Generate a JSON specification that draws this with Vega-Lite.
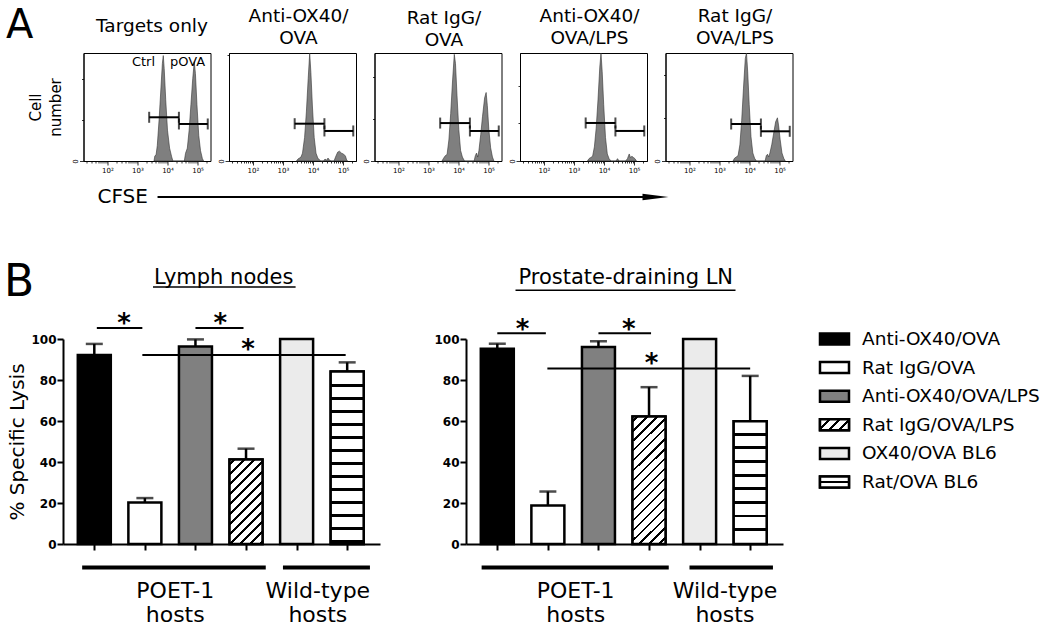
{
"$schema": "https://vega.github.io/schema/vega-lite/v6.json",
"padding": {"left": 3, "top": 5, "right": 3, "bottom": 3},
"config": {"font": "DejaVu Sans", "view": {"stroke": null}, "title": {"fontWeight": "normal", "color": "black", "fontSize": 18.5, "lineHeight": 22}, "axis": {"domainColor": "black", "tickColor": "black", "labelColor": "black", "titleColor": "black", "grid": false}, "text": {"color": "black"}},
"datasets": {
"hist": [
{"panel":"p1","cfse":3548,"count":0},{"panel":"p1","cfse":3802,"count":1.0},{"panel":"p1","cfse":4169,"count":1.2},{"panel":"p1","cfse":4571,"count":3},{"panel":"p1","cfse":5248,"count":8},{"panel":"p1","cfse":6026,"count":14},{"panel":"p1","cfse":6761,"count":19},{"panel":"p1","cfse":7244,"count":20.5},{"panel":"p1","cfse":7762,"count":18},{"panel":"p1","cfse":8710,"count":12},{"panel":"p1","cfse":10000,"count":6},{"panel":"p1","cfse":11749,"count":2.5},{"panel":"p1","cfse":13804,"count":0.8},{"panel":"p1","cfse":15136,"count":0},
{"panel":"p1","cfse":36308,"count":0},{"panel":"p1","cfse":39811,"count":1.5},{"panel":"p1","cfse":45709,"count":2.5},{"panel":"p1","cfse":52481,"count":6},{"panel":"p1","cfse":60256,"count":11},{"panel":"p1","cfse":69183,"count":16},{"panel":"p1","cfse":77625,"count":19.3},{"panel":"p1","cfse":85114,"count":17},{"panel":"p1","cfse":95499,"count":11},{"panel":"p1","cfse":109648,"count":5},{"panel":"p1","cfse":125893,"count":2},{"panel":"p1","cfse":144544,"count":0.5},{"panel":"p1","cfse":158489,"count":0},
{"panel":"p2","cfse":2818,"count":0},{"panel":"p2","cfse":3162,"count":1},{"panel":"p2","cfse":3548,"count":1.5},{"panel":"p2","cfse":3981,"count":2},{"panel":"p2","cfse":4467,"count":4},{"panel":"p2","cfse":5248,"count":12},{"panel":"p2","cfse":6026,"count":25},{"panel":"p2","cfse":6918,"count":42},{"panel":"p2","cfse":7762,"count":55},{"panel":"p2","cfse":8511,"count":45},{"panel":"p2","cfse":9550,"count":28},{"panel":"p2","cfse":10965,"count":12},{"panel":"p2","cfse":12589,"count":4},{"panel":"p2","cfse":14454,"count":1.5},{"panel":"p2","cfse":16596,"count":0.5},{"panel":"p2","cfse":18197,"count":0},
{"panel":"p2","cfse":22387,"count":0},{"panel":"p2","cfse":25119,"count":1},{"panel":"p2","cfse":28184,"count":0.4},{"panel":"p2","cfse":31623,"count":1.5},{"panel":"p2","cfse":35481,"count":0.4},{"panel":"p2","cfse":39811,"count":0},
{"panel":"p2","cfse":50119,"count":0},{"panel":"p2","cfse":56234,"count":2},{"panel":"p2","cfse":66069,"count":4.5},{"panel":"p2","cfse":75858,"count":5},{"panel":"p2","cfse":89125,"count":4},{"panel":"p2","cfse":104713,"count":3.5},{"panel":"p2","cfse":120226,"count":2.5},{"panel":"p2","cfse":131826,"count":0.5},{"panel":"p2","cfse":141254,"count":0},
{"panel":"p3","cfse":2818,"count":0},{"panel":"p3","cfse":3162,"count":1},{"panel":"p3","cfse":3631,"count":2},{"panel":"p3","cfse":4169,"count":2.5},{"panel":"p3","cfse":4786,"count":8},{"panel":"p3","cfse":5495,"count":18},{"panel":"p3","cfse":6310,"count":30},{"panel":"p3","cfse":7244,"count":40.5},{"panel":"p3","cfse":7943,"count":37},{"panel":"p3","cfse":8913,"count":25},{"panel":"p3","cfse":10233,"count":12},{"panel":"p3","cfse":11749,"count":4},{"panel":"p3","cfse":13490,"count":1.5},{"panel":"p3","cfse":15849,"count":0},
{"panel":"p3","cfse":33113,"count":0},{"panel":"p3","cfse":36308,"count":2},{"panel":"p3","cfse":39811,"count":3},{"panel":"p3","cfse":43652,"count":1.5},{"panel":"p3","cfse":47863,"count":4},{"panel":"p3","cfse":54954,"count":10},{"panel":"p3","cfse":63096,"count":17},{"panel":"p3","cfse":74131,"count":24},{"panel":"p3","cfse":83176,"count":26},{"panel":"p3","cfse":91201,"count":21},{"panel":"p3","cfse":102329,"count":12},{"panel":"p3","cfse":117490,"count":5},{"panel":"p3","cfse":134896,"count":1.5},{"panel":"p3","cfse":151356,"count":0},
{"panel":"p4","cfse":2818,"count":0},{"panel":"p4","cfse":3162,"count":1},{"panel":"p4","cfse":3631,"count":1.5},{"panel":"p4","cfse":4169,"count":2},{"panel":"p4","cfse":4786,"count":6},{"panel":"p4","cfse":5495,"count":14},{"panel":"p4","cfse":6310,"count":26},{"panel":"p4","cfse":7244,"count":40},{"panel":"p4","cfse":7943,"count":46},{"panel":"p4","cfse":8710,"count":38},{"panel":"p4","cfse":9772,"count":24},{"panel":"p4","cfse":11220,"count":10},{"panel":"p4","cfse":12882,"count":3},{"panel":"p4","cfse":14791,"count":1},{"panel":"p4","cfse":16982,"count":0},
{"panel":"p4","cfse":25119,"count":0},{"panel":"p4","cfse":28184,"count":1},{"panel":"p4","cfse":31623,"count":0},{"panel":"p4","cfse":52481,"count":0},{"panel":"p4","cfse":60256,"count":1},{"panel":"p4","cfse":69183,"count":3},{"panel":"p4","cfse":75858,"count":1.5},{"panel":"p4","cfse":85114,"count":2},{"panel":"p4","cfse":95499,"count":1.5},{"panel":"p4","cfse":107152,"count":1},{"panel":"p4","cfse":120226,"count":0},
{"panel":"p5","cfse":2818,"count":0},{"panel":"p5","cfse":3162,"count":1},{"panel":"p5","cfse":3631,"count":1.5},{"panel":"p5","cfse":4169,"count":2},{"panel":"p5","cfse":4786,"count":6},{"panel":"p5","cfse":5495,"count":15},{"panel":"p5","cfse":6310,"count":27},{"panel":"p5","cfse":7244,"count":38},{"panel":"p5","cfse":7943,"count":40},{"panel":"p5","cfse":8710,"count":33},{"panel":"p5","cfse":9772,"count":21},{"panel":"p5","cfse":11220,"count":9},{"panel":"p5","cfse":12882,"count":3},{"panel":"p5","cfse":14791,"count":1},{"panel":"p5","cfse":16982,"count":0},
{"panel":"p5","cfse":33113,"count":0},{"panel":"p5","cfse":36308,"count":2},{"panel":"p5","cfse":39811,"count":2.5},{"panel":"p5","cfse":43652,"count":1.5},{"panel":"p5","cfse":47863,"count":3},{"panel":"p5","cfse":54954,"count":6},{"panel":"p5","cfse":63096,"count":10},{"panel":"p5","cfse":74131,"count":14.5},{"panel":"p5","cfse":85114,"count":16},{"panel":"p5","cfse":93325,"count":13},{"panel":"p5","cfse":104713,"count":8},{"panel":"p5","cfse":120226,"count":3},{"panel":"p5","cfse":138038,"count":1},{"panel":"p5","cfse":154882,"count":0}
],
"gates": [
{"panel":"p1","lo":2455,"hi":23988,"count":8.5},{"panel":"p1","lo":23988,"hi":218776,"count":7.2},
{"panel":"p2","lo":2455,"hi":23988,"count":19},{"panel":"p2","lo":23988,"hi":218776,"count":15.3},
{"panel":"p3","lo":2455,"hi":23988,"count":14.4},{"panel":"p3","lo":23988,"hi":218776,"count":11.4},
{"panel":"p4","lo":2455,"hi":23988,"count":16.2},{"panel":"p4","lo":23988,"hi":218776,"count":12.8},
{"panel":"p5","lo":2455,"hi":23988,"count":13.7},{"panel":"p5","lo":23988,"hi":218776,"count":11}
],
"lysis": [
{"site":"Lymph nodes","group":"Anti-OX40/OVA","idx":1,"mean":92.2,"upper":97.6},
{"site":"Lymph nodes","group":"Rat IgG/OVA","idx":2,"mean":20.3,"upper":22.4},
{"site":"Lymph nodes","group":"Anti-OX40/OVA/LPS","idx":3,"mean":96.4,"upper":99.8},
{"site":"Lymph nodes","group":"Rat IgG/OVA/LPS","idx":4,"mean":41.2,"upper":46.5},
{"site":"Lymph nodes","group":"OX40/OVA BL6","idx":5,"mean":100,"upper":100},
{"site":"Lymph nodes","group":"Rat/OVA BL6","idx":6,"mean":84.2,"upper":88.6},
{"site":"Prostate-draining LN","group":"Anti-OX40/OVA","idx":1,"mean":95.3,"upper":97.7},
{"site":"Prostate-draining LN","group":"Rat IgG/OVA","idx":2,"mean":18.8,"upper":25.6},
{"site":"Prostate-draining LN","group":"Anti-OX40/OVA/LPS","idx":3,"mean":96.1,"upper":98.9},
{"site":"Prostate-draining LN","group":"Rat IgG/OVA/LPS","idx":4,"mean":62.2,"upper":76.5},
{"site":"Prostate-draining LN","group":"OX40/OVA BL6","idx":5,"mean":100,"upper":100},
{"site":"Prostate-draining LN","group":"Rat/OVA BL6","idx":6,"mean":59.9,"upper":82.0}
],
"sig": [
{"site":"Lymph nodes","from":1.05,"to":1.95,"level":105.4,"starAt":1.59,"starLevel":107.2},
{"site":"Lymph nodes","from":3.0,"to":3.95,"level":105.4,"starAt":3.49,"starLevel":107.2},
{"site":"Lymph nodes","from":1.95,"to":5.97,"level":92.2,"starAt":4.04,"starLevel":94.7},
{"site":"Prostate-draining LN","from":1.0,"to":1.96,"level":102.8,"starAt":1.5,"starLevel":104.5},
{"site":"Prostate-draining LN","from":3.0,"to":4.04,"level":102.8,"starAt":3.6,"starLevel":104.5},
{"site":"Prostate-draining LN","from":1.99,"to":6.0,"level":85.6,"starAt":4.05,"starLevel":87.9}
],
"hosts": [
{"site":"Lymph nodes","label":"POET-1\nhosts","from":0.76,"to":4.39,"at":2.6},
{"site":"Lymph nodes","label":"Wild-type\nhosts","from":4.73,"to":6.45,"at":5.42},
{"site":"Prostate-draining LN","label":"POET-1\nhosts","from":0.69,"to":4.39,"at":2.55},
{"site":"Prostate-draining LN","label":"Wild-type\nhosts","from":4.8,"to":6.45,"at":5.5}
]
},
"spacing": 8,
"vconcat": [
{
"title": {"text": "A", "fontSize": 40, "anchor": "start", "frame": "bounds", "dx": -22, "offset": -39},
"bounds": "flush",
"spacing": 19.5,
"hconcat": [
{"width": 1, "height": 1, "data": {"values": [{}]}, "mark": {"type": "point", "opacity": 0}, "encoding": {}},
{
"bounds": "flush",
"spacing": 18.5,
"hconcat": [
{"width": 127, "height": 108, "view": {"stroke": "black", "strokeWidth": 1},
 "title": {"text": "Targets only", "offset": 18, "dx": 5},
 "layer": [
 {"data": {"name": "hist"}, "transform": [{"filter": "datum.panel === 'p1'"}],
  "mark": {"type": "area", "orient": "vertical", "fill": "#7f7f7f", "stroke": "#333333", "strokeWidth": 0.6},
  "encoding": {
   "x": {"field": "cfse", "type": "quantitative", "scale": {"type": "log", "domain": [16, 270000], "nice": false},
    "axis": {"title": null, "values": [20,30,40,50,60,70,80,90,100,200,300,400,500,600,700,800,900,1000,2000,3000,4000,5000,6000,7000,8000,9000,10000,20000,30000,40000,50000,60000,70000,80000,90000,100000,200000], "labelExpr": "datum.value === 100 ? '10²' : datum.value === 1000 ? '10³' : datum.value === 10000 ? '10⁴' : datum.value === 100000 ? '10⁵' : ''", "labelFontSize": 7, "labelPadding": 1, "tickSize": {"condition": {"test": "datum.value === 100 || datum.value === 1000 || datum.value === 10000 || datum.value === 100000", "value": 4}, "value": 2}, "tickWidth": 0.8, "labelOverlap": false, "labelFlush": false}},
   "y": {"field": "count", "type": "quantitative", "scale": {"domain": [0, 21], "nice": false},
    "axis": {"title": ["Cell", "number"], "titleFontSize": 15, "titleFontWeight": "normal", "titleLineHeight": 20, "titlePadding": 8, "values": [0,1,2,3,4,5,6,7,8,9,10,11,12,13,14,15,16,17,18,19,20,21], "labelExpr": "datum.value % 5 === 0 ? datum.label : ''", "labelAngle": -90, "labelAlign": "center", "labelBaseline": "bottom", "labelFontSize": 7, "labelPadding": 1, "tickSize": {"condition": {"test": "datum.value % 5 === 0", "value": 4}, "value": 2}, "tickWidth": 0.8, "labelOverlap": false, "labelFlush": false}}
  }},
 {"data": {"name": "gates"}, "transform": [{"filter": "datum.panel === 'p1'"}], "mark": {"type": "rule", "strokeWidth": 2, "color": "black"}, "encoding": {"x": {"field": "lo", "type": "quantitative"}, "x2": {"field": "hi"}, "y": {"field": "count", "type": "quantitative"}}},
 {"data": {"name": "gates"}, "transform": [{"filter": "datum.panel === 'p1'"}], "mark": {"type": "tick", "orient": "vertical", "size": 11, "thickness": 2, "color": "black"}, "encoding": {"x": {"field": "lo", "type": "quantitative"}, "y": {"field": "count", "type": "quantitative"}}},
 {"data": {"name": "gates"}, "transform": [{"filter": "datum.panel === 'p1'"}], "mark": {"type": "tick", "orient": "vertical", "size": 11, "thickness": 2, "color": "black"}, "encoding": {"x": {"field": "hi", "type": "quantitative"}, "y": {"field": "count", "type": "quantitative"}}},
 {"data": {"values": [{"t": "Ctrl"}]}, "mark": {"type": "text", "fontSize": 13, "baseline": "middle"}, "encoding": {"x": {"datum": 1585, "type": "quantitative"}, "y": {"datum": 19.3, "type": "quantitative"}, "text": {"field": "t"}}},
 {"data": {"values": [{"t": "pOVA"}]}, "mark": {"type": "text", "fontSize": 13, "baseline": "middle"}, "encoding": {"x": {"datum": 46800, "type": "quantitative"}, "y": {"datum": 19.3, "type": "quantitative"}, "text": {"field": "t"}}}
 ]},
{"width": 127, "height": 108, "view": {"stroke": "black", "strokeWidth": 1},
 "title": {"text": ["Anti-OX40/", "OVA"], "offset": 4, "dx": 6},
 "layer": [
 {"data": {"name": "hist"}, "transform": [{"filter": "datum.panel === 'p2'"}],
  "mark": {"type": "area", "orient": "vertical", "fill": "#7f7f7f", "stroke": "#333333", "strokeWidth": 0.6},
  "encoding": {
   "x": {"field": "cfse", "type": "quantitative", "scale": {"type": "log", "domain": [16, 270000], "nice": false},
    "axis": {"title": null, "values": [20,30,40,50,60,70,80,90,100,200,300,400,500,600,700,800,900,1000,2000,3000,4000,5000,6000,7000,8000,9000,10000,20000,30000,40000,50000,60000,70000,80000,90000,100000,200000], "labelExpr": "datum.value === 100 ? '10²' : datum.value === 1000 ? '10³' : datum.value === 10000 ? '10⁴' : datum.value === 100000 ? '10⁵' : ''", "labelFontSize": 7, "labelPadding": 1, "tickSize": {"condition": {"test": "datum.value === 100 || datum.value === 1000 || datum.value === 10000 || datum.value === 100000", "value": 4}, "value": 2}, "tickWidth": 0.8, "labelOverlap": false, "labelFlush": false}},
   "y": {"field": "count", "type": "quantitative", "scale": {"domain": [0, 55], "nice": false},
    "axis": {"title": null, "values": [0,2,4,6,8,10,12,14,16,18,20,22,24,26,28,30,32,34,36,38,40,42,44,46,48,50,52,54], "labelExpr": "datum.value % 10 === 0 ? datum.label : ''", "labelAngle": -90, "labelAlign": "center", "labelBaseline": "bottom", "labelFontSize": 7, "labelPadding": 1, "tickSize": {"condition": {"test": "datum.value % 10 === 0", "value": 4}, "value": 2}, "tickWidth": 0.8, "labelOverlap": false, "labelFlush": false}}
  }},
 {"data": {"name": "gates"}, "transform": [{"filter": "datum.panel === 'p2'"}], "mark": {"type": "rule", "strokeWidth": 2, "color": "black"}, "encoding": {"x": {"field": "lo", "type": "quantitative"}, "x2": {"field": "hi"}, "y": {"field": "count", "type": "quantitative"}}},
 {"data": {"name": "gates"}, "transform": [{"filter": "datum.panel === 'p2'"}], "mark": {"type": "tick", "orient": "vertical", "size": 11, "thickness": 2, "color": "black"}, "encoding": {"x": {"field": "lo", "type": "quantitative"}, "y": {"field": "count", "type": "quantitative"}}},
 {"data": {"name": "gates"}, "transform": [{"filter": "datum.panel === 'p2'"}], "mark": {"type": "tick", "orient": "vertical", "size": 11, "thickness": 2, "color": "black"}, "encoding": {"x": {"field": "hi", "type": "quantitative"}, "y": {"field": "count", "type": "quantitative"}}}
 ]},
{"width": 127, "height": 108, "view": {"stroke": "black", "strokeWidth": 1},
 "title": {"text": ["Rat IgG/", "OVA"], "offset": 4, "dx": 6},
 "layer": [
 {"data": {"name": "hist"}, "transform": [{"filter": "datum.panel === 'p3'"}],
  "mark": {"type": "area", "orient": "vertical", "fill": "#7f7f7f", "stroke": "#333333", "strokeWidth": 0.6},
  "encoding": {
   "x": {"field": "cfse", "type": "quantitative", "scale": {"type": "log", "domain": [16, 270000], "nice": false},
    "axis": {"title": null, "values": [20,30,40,50,60,70,80,90,100,200,300,400,500,600,700,800,900,1000,2000,3000,4000,5000,6000,7000,8000,9000,10000,20000,30000,40000,50000,60000,70000,80000,90000,100000,200000], "labelExpr": "datum.value === 100 ? '10²' : datum.value === 1000 ? '10³' : datum.value === 10000 ? '10⁴' : datum.value === 100000 ? '10⁵' : ''", "labelFontSize": 7, "labelPadding": 1, "tickSize": {"condition": {"test": "datum.value === 100 || datum.value === 1000 || datum.value === 10000 || datum.value === 100000", "value": 4}, "value": 2}, "tickWidth": 0.8, "labelOverlap": false, "labelFlush": false}},
   "y": {"field": "count", "type": "quantitative", "scale": {"domain": [0, 41], "nice": false},
    "axis": {"title": null, "values": [0,1,2,3,4,5,6,7,8,9,10,11,12,13,14,15,16,17,18,19,20,21,22,23,24,25,26,27,28,29,30,31,32,33,34,35,36,37,38,39,40,41], "labelExpr": "datum.value % 5 === 0 ? datum.label : ''", "labelAngle": -90, "labelAlign": "center", "labelBaseline": "bottom", "labelFontSize": 7, "labelPadding": 1, "tickSize": {"condition": {"test": "datum.value % 5 === 0", "value": 4}, "value": 2}, "tickWidth": 0.8, "labelOverlap": false, "labelFlush": false}}
  }},
 {"data": {"name": "gates"}, "transform": [{"filter": "datum.panel === 'p3'"}], "mark": {"type": "rule", "strokeWidth": 2, "color": "black"}, "encoding": {"x": {"field": "lo", "type": "quantitative"}, "x2": {"field": "hi"}, "y": {"field": "count", "type": "quantitative"}}},
 {"data": {"name": "gates"}, "transform": [{"filter": "datum.panel === 'p3'"}], "mark": {"type": "tick", "orient": "vertical", "size": 11, "thickness": 2, "color": "black"}, "encoding": {"x": {"field": "lo", "type": "quantitative"}, "y": {"field": "count", "type": "quantitative"}}},
 {"data": {"name": "gates"}, "transform": [{"filter": "datum.panel === 'p3'"}], "mark": {"type": "tick", "orient": "vertical", "size": 11, "thickness": 2, "color": "black"}, "encoding": {"x": {"field": "hi", "type": "quantitative"}, "y": {"field": "count", "type": "quantitative"}}}
 ]},
{"width": 127, "height": 108, "view": {"stroke": "black", "strokeWidth": 1},
 "title": {"text": ["Anti-OX40/", "OVA/LPS"], "offset": 4, "dx": 6},
 "layer": [
 {"data": {"name": "hist"}, "transform": [{"filter": "datum.panel === 'p4'"}],
  "mark": {"type": "area", "orient": "vertical", "fill": "#7f7f7f", "stroke": "#333333", "strokeWidth": 0.6},
  "encoding": {
   "x": {"field": "cfse", "type": "quantitative", "scale": {"type": "log", "domain": [16, 270000], "nice": false},
    "axis": {"title": null, "values": [20,30,40,50,60,70,80,90,100,200,300,400,500,600,700,800,900,1000,2000,3000,4000,5000,6000,7000,8000,9000,10000,20000,30000,40000,50000,60000,70000,80000,90000,100000,200000], "labelExpr": "datum.value === 100 ? '10²' : datum.value === 1000 ? '10³' : datum.value === 10000 ? '10⁴' : datum.value === 100000 ? '10⁵' : ''", "labelFontSize": 7, "labelPadding": 1, "tickSize": {"condition": {"test": "datum.value === 100 || datum.value === 1000 || datum.value === 10000 || datum.value === 100000", "value": 4}, "value": 2}, "tickWidth": 0.8, "labelOverlap": false, "labelFlush": false}},
   "y": {"field": "count", "type": "quantitative", "scale": {"domain": [0, 46], "nice": false},
    "axis": {"title": null, "values": [0,1,2,3,4,5,6,7,8,9,10,11,12,13,14,15,16,17,18,19,20,21,22,23,24,25,26,27,28,29,30,31,32,33,34,35,36,37,38,39,40,41,42,43,44,45,46], "labelExpr": "datum.value % 5 === 0 ? datum.label : ''", "labelAngle": -90, "labelAlign": "center", "labelBaseline": "bottom", "labelFontSize": 7, "labelPadding": 1, "tickSize": {"condition": {"test": "datum.value % 5 === 0", "value": 4}, "value": 2}, "tickWidth": 0.8, "labelOverlap": false, "labelFlush": false}}
  }},
 {"data": {"name": "gates"}, "transform": [{"filter": "datum.panel === 'p4'"}], "mark": {"type": "rule", "strokeWidth": 2, "color": "black"}, "encoding": {"x": {"field": "lo", "type": "quantitative"}, "x2": {"field": "hi"}, "y": {"field": "count", "type": "quantitative"}}},
 {"data": {"name": "gates"}, "transform": [{"filter": "datum.panel === 'p4'"}], "mark": {"type": "tick", "orient": "vertical", "size": 11, "thickness": 2, "color": "black"}, "encoding": {"x": {"field": "lo", "type": "quantitative"}, "y": {"field": "count", "type": "quantitative"}}},
 {"data": {"name": "gates"}, "transform": [{"filter": "datum.panel === 'p4'"}], "mark": {"type": "tick", "orient": "vertical", "size": 11, "thickness": 2, "color": "black"}, "encoding": {"x": {"field": "hi", "type": "quantitative"}, "y": {"field": "count", "type": "quantitative"}}}
 ]},
{"width": 127, "height": 108, "view": {"stroke": "black", "strokeWidth": 1},
 "title": {"text": ["Rat IgG/", "OVA/LPS"], "offset": 4, "dx": 6},
 "layer": [
 {"data": {"name": "hist"}, "transform": [{"filter": "datum.panel === 'p5'"}],
  "mark": {"type": "area", "orient": "vertical", "fill": "#7f7f7f", "stroke": "#333333", "strokeWidth": 0.6},
  "encoding": {
   "x": {"field": "cfse", "type": "quantitative", "scale": {"type": "log", "domain": [16, 270000], "nice": false},
    "axis": {"title": null, "values": [20,30,40,50,60,70,80,90,100,200,300,400,500,600,700,800,900,1000,2000,3000,4000,5000,6000,7000,8000,9000,10000,20000,30000,40000,50000,60000,70000,80000,90000,100000,200000], "labelExpr": "datum.value === 100 ? '10²' : datum.value === 1000 ? '10³' : datum.value === 10000 ? '10⁴' : datum.value === 100000 ? '10⁵' : ''", "labelFontSize": 7, "labelPadding": 1, "tickSize": {"condition": {"test": "datum.value === 100 || datum.value === 1000 || datum.value === 10000 || datum.value === 100000", "value": 4}, "value": 2}, "tickWidth": 0.8, "labelOverlap": false, "labelFlush": false}},
   "y": {"field": "count", "type": "quantitative", "scale": {"domain": [0, 40], "nice": false},
    "axis": {"title": null, "values": [0,1,2,3,4,5,6,7,8,9,10,11,12,13,14,15,16,17,18,19,20,21,22,23,24,25,26,27,28,29,30,31,32,33,34,35,36,37,38,39,40], "labelExpr": "datum.value % 5 === 0 ? datum.label : ''", "labelAngle": -90, "labelAlign": "center", "labelBaseline": "bottom", "labelFontSize": 7, "labelPadding": 1, "tickSize": {"condition": {"test": "datum.value % 5 === 0", "value": 4}, "value": 2}, "tickWidth": 0.8, "labelOverlap": false, "labelFlush": false}}
  }},
 {"data": {"name": "gates"}, "transform": [{"filter": "datum.panel === 'p5'"}], "mark": {"type": "rule", "strokeWidth": 2, "color": "black"}, "encoding": {"x": {"field": "lo", "type": "quantitative"}, "x2": {"field": "hi"}, "y": {"field": "count", "type": "quantitative"}}},
 {"data": {"name": "gates"}, "transform": [{"filter": "datum.panel === 'p5'"}], "mark": {"type": "tick", "orient": "vertical", "size": 11, "thickness": 2, "color": "black"}, "encoding": {"x": {"field": "lo", "type": "quantitative"}, "y": {"field": "count", "type": "quantitative"}}},
 {"data": {"name": "gates"}, "transform": [{"filter": "datum.panel === 'p5'"}], "mark": {"type": "tick", "orient": "vertical", "size": 11, "thickness": 2, "color": "black"}, "encoding": {"x": {"field": "hi", "type": "quantitative"}, "y": {"field": "count", "type": "quantitative"}}}
 ]}
]
}
]
},
{
"width": 606, "height": 70,
"data": {"values": [{"label": "CFSE"}]},
"layer": [
 {"mark": {"type": "text", "align": "left", "baseline": "middle", "fontSize": 20}, "encoding": {"x": {"datum": 0.0569, "type": "quantitative", "scale": {"domain": [0, 1], "nice": false}, "axis": null}, "y": {"datum": 0.785, "type": "quantitative", "scale": {"domain": [0, 1], "nice": false}, "axis": null}, "text": {"field": "label"}}},
 {"mark": {"type": "rule", "strokeWidth": 2, "color": "black"}, "encoding": {"x": {"datum": 0.156, "type": "quantitative"}, "x2": {"datum": 0.9612}, "y": {"datum": 0.785, "type": "quantitative"}}},
 {"mark": {"type": "point", "shape": "M-1,-0.25L1,0L-1,0.25Z", "filled": true, "color": "black", "opacity": 1, "size": 676}, "encoding": {"x": {"datum": 0.9777, "type": "quantitative"}, "y": {"datum": 0.785, "type": "quantitative"}}}
]
},
{
"title": {"text": "B", "fontSize": 44, "anchor": "start", "frame": "bounds", "dx": -4, "offset": -38},
"bounds": "flush",
"spacing": 86,
"hconcat": [
{"width": 317, "height": 205,
 "layer": [
 {"data": {"name": "lysis"}, "transform": [{"filter": "datum.site === 'Lymph nodes'"}],
  "mark": {"type": "bar", "orient": "vertical", "width": 33, "stroke": "black", "strokeWidth": 2.5},
  "encoding": {
   "x": {"field": "idx", "type": "quantitative", "scale": {"domain": [0.48, 6.55], "nice": false, "zero": false}, "axis": {"title": null, "values": [1,2,3,4,5,6], "labels": false, "tickSize": 6, "tickWidth": 2, "domainWidth": 2}},
   "y": {"field": "mean", "type": "quantitative", "scale": {"domain": [0, 100], "nice": false}, "axis": {"title": "% Specific Lysis", "titleFontSize": 20, "titleFontWeight": "normal", "titlePadding": 3, "values": [0,20,40,60,80,100], "labelFontSize": 12, "labelFontWeight": "bold", "labelPadding": 1, "tickSize": 6, "tickWidth": 2, "domainWidth": 2}},
   "fill": {"field": "group", "type": "nominal", "scale": {"domain": ["Anti-OX40/OVA","Rat IgG/OVA","Anti-OX40/OVA/LPS","Rat IgG/OVA/LPS","OX40/OVA BL6","Rat/OVA BL6"], "range": ["#000000","#ffffff","#808080","#ffffff","#ebebeb","#ffffff"]}, "legend": null}
  }},
 {"data": {"name": "lysis"}, "transform": [{"filter": "datum.site === 'Lymph nodes' && datum.group === 'Rat IgG/OVA/LPS'"}],
  "mark": {"type": "bar", "orient": "vertical", "width": 33, "stroke": "black", "strokeWidth": 2.5, "fill": {"gradient": "linear", "x1": 0, "y1": 0, "x2": 0.471, "y2": 1.207, "stops": [
   {"offset": 0, "color": "#fff"},
   {"offset": 0.029, "color": "#fff"}, {"offset": 0.029, "color": "#000"}, {"offset": 0.051, "color": "#000"}, {"offset": 0.051, "color": "#fff"},
   {"offset": 0.114, "color": "#fff"}, {"offset": 0.114, "color": "#000"}, {"offset": 0.136, "color": "#000"}, {"offset": 0.136, "color": "#fff"},
   {"offset": 0.199, "color": "#fff"}, {"offset": 0.199, "color": "#000"}, {"offset": 0.221, "color": "#000"}, {"offset": 0.221, "color": "#fff"},
   {"offset": 0.284, "color": "#fff"}, {"offset": 0.284, "color": "#000"}, {"offset": 0.306, "color": "#000"}, {"offset": 0.306, "color": "#fff"},
   {"offset": 0.369, "color": "#fff"}, {"offset": 0.369, "color": "#000"}, {"offset": 0.391, "color": "#000"}, {"offset": 0.391, "color": "#fff"},
   {"offset": 0.455, "color": "#fff"}, {"offset": 0.455, "color": "#000"}, {"offset": 0.477, "color": "#000"}, {"offset": 0.477, "color": "#fff"},
   {"offset": 0.540, "color": "#fff"}, {"offset": 0.540, "color": "#000"}, {"offset": 0.562, "color": "#000"}, {"offset": 0.562, "color": "#fff"},
   {"offset": 0.625, "color": "#fff"}, {"offset": 0.625, "color": "#000"}, {"offset": 0.647, "color": "#000"}, {"offset": 0.647, "color": "#fff"},
   {"offset": 0.710, "color": "#fff"}, {"offset": 0.710, "color": "#000"}, {"offset": 0.732, "color": "#000"}, {"offset": 0.732, "color": "#fff"},
   {"offset": 0.795, "color": "#fff"}, {"offset": 0.795, "color": "#000"}, {"offset": 0.817, "color": "#000"}, {"offset": 0.817, "color": "#fff"},
   {"offset": 0.880, "color": "#fff"}, {"offset": 0.880, "color": "#000"}, {"offset": 0.902, "color": "#000"}, {"offset": 0.902, "color": "#fff"},
   {"offset": 0.965, "color": "#fff"}, {"offset": 0.965, "color": "#000"}, {"offset": 0.987, "color": "#000"}, {"offset": 0.987, "color": "#fff"},
   {"offset": 1, "color": "#fff"}]}},
  "encoding": {"x": {"field": "idx", "type": "quantitative"}, "y": {"field": "mean", "type": "quantitative"}}},
 {"data": {"name": "lysis"}, "transform": [{"filter": "datum.site === 'Lymph nodes' && datum.group === 'Rat/OVA BL6'"}],
  "mark": {"type": "bar", "orient": "vertical", "width": 33, "stroke": "black", "strokeWidth": 2.5, "fill": {"gradient": "linear", "x1": 0, "y1": 0, "x2": 0, "y2": 1, "stops": [
   {"offset": 0, "color": "#fff"},
   {"offset": 0.074, "color": "#fff"}, {"offset": 0.074, "color": "#000"}, {"offset": 0.092, "color": "#000"}, {"offset": 0.092, "color": "#fff"},
   {"offset": 0.149, "color": "#fff"}, {"offset": 0.149, "color": "#000"}, {"offset": 0.167, "color": "#000"}, {"offset": 0.167, "color": "#fff"},
   {"offset": 0.225, "color": "#fff"}, {"offset": 0.225, "color": "#000"}, {"offset": 0.243, "color": "#000"}, {"offset": 0.243, "color": "#fff"},
   {"offset": 0.300, "color": "#fff"}, {"offset": 0.300, "color": "#000"}, {"offset": 0.318, "color": "#000"}, {"offset": 0.318, "color": "#fff"},
   {"offset": 0.375, "color": "#fff"}, {"offset": 0.375, "color": "#000"}, {"offset": 0.393, "color": "#000"}, {"offset": 0.393, "color": "#fff"},
   {"offset": 0.451, "color": "#fff"}, {"offset": 0.451, "color": "#000"}, {"offset": 0.469, "color": "#000"}, {"offset": 0.469, "color": "#fff"},
   {"offset": 0.526, "color": "#fff"}, {"offset": 0.526, "color": "#000"}, {"offset": 0.544, "color": "#000"}, {"offset": 0.544, "color": "#fff"},
   {"offset": 0.601, "color": "#fff"}, {"offset": 0.601, "color": "#000"}, {"offset": 0.619, "color": "#000"}, {"offset": 0.619, "color": "#fff"},
   {"offset": 0.676, "color": "#fff"}, {"offset": 0.676, "color": "#000"}, {"offset": 0.694, "color": "#000"}, {"offset": 0.694, "color": "#fff"},
   {"offset": 0.752, "color": "#fff"}, {"offset": 0.752, "color": "#000"}, {"offset": 0.770, "color": "#000"}, {"offset": 0.770, "color": "#fff"},
   {"offset": 0.827, "color": "#fff"}, {"offset": 0.827, "color": "#000"}, {"offset": 0.845, "color": "#000"}, {"offset": 0.845, "color": "#fff"},
   {"offset": 0.902, "color": "#fff"}, {"offset": 0.902, "color": "#000"}, {"offset": 0.920, "color": "#000"}, {"offset": 0.920, "color": "#fff"},
   {"offset": 0.978, "color": "#fff"}, {"offset": 0.978, "color": "#000"}, {"offset": 0.996, "color": "#000"}, {"offset": 0.996, "color": "#fff"},
   {"offset": 1, "color": "#fff"}]}},
  "encoding": {"x": {"field": "idx", "type": "quantitative"}, "y": {"field": "mean", "type": "quantitative"}}},
 {"data": {"name": "lysis"}, "transform": [{"filter": "datum.site === 'Lymph nodes' && datum.upper > datum.mean"}],
  "mark": {"type": "rule", "strokeWidth": 2.5, "color": "black"},
  "encoding": {"x": {"field": "idx", "type": "quantitative"}, "y": {"field": "mean", "type": "quantitative"}, "y2": {"field": "upper"}}},
 {"data": {"name": "lysis"}, "transform": [{"filter": "datum.site === 'Lymph nodes' && datum.upper > datum.mean"}],
  "mark": {"type": "tick", "orient": "horizontal", "size": 17, "thickness": 2.5, "color": "black"},
  "encoding": {"x": {"field": "idx", "type": "quantitative"}, "y": {"field": "upper", "type": "quantitative"}}},
 {"data": {"name": "sig"}, "transform": [{"filter": "datum.site === 'Lymph nodes'"}],
  "mark": {"type": "rule", "strokeWidth": 2, "color": "black"},
  "encoding": {"x": {"field": "from", "type": "quantitative"}, "x2": {"field": "to"}, "y": {"field": "level", "type": "quantitative"}}},
 {"data": {"name": "sig"}, "transform": [{"filter": "datum.site === 'Lymph nodes'"}],
  "mark": {"type": "text", "text": "*", "fontSize": 26, "fontWeight": "bold", "baseline": "middle"},
  "encoding": {"x": {"field": "starAt", "type": "quantitative"}, "y": {"field": "starLevel", "type": "quantitative"}}},
 {"data": {"name": "hosts"}, "transform": [{"filter": "datum.site === 'Lymph nodes'"}],
  "mark": {"type": "rule", "strokeWidth": 4, "color": "black"},
  "encoding": {"x": {"field": "from", "type": "quantitative"}, "x2": {"field": "to"}, "y": {"datum": -11.5, "type": "quantitative"}}},
 {"data": {"name": "hosts"}, "transform": [{"filter": "datum.site === 'Lymph nodes'"}],
  "mark": {"type": "text", "fontSize": 22, "lineBreak": "\n", "lineHeight": 24, "baseline": "middle"},
  "encoding": {"x": {"field": "at", "type": "quantitative"}, "y": {"datum": -23, "type": "quantitative"}, "text": {"field": "label"}}},
 {"data": {"values": [{"t": "Lymph nodes"}]}, "mark": {"type": "text", "fontSize": 21, "baseline": "middle"},
  "encoding": {"x": {"datum": 3.56, "type": "quantitative"}, "y": {"datum": 129.8, "type": "quantitative"}, "text": {"field": "t"}}},
 {"data": {"values": [{"t": "Lymph nodes"}]}, "mark": {"type": "rule", "strokeWidth": 1.5, "color": "black"},
  "encoding": {"x": {"datum": 2.16, "type": "quantitative"}, "x2": {"datum": 4.98}, "y": {"datum": 125.4, "type": "quantitative"}}}
 ]},
{"width": 317, "height": 205,
 "layer": [
 {"data": {"name": "lysis"}, "transform": [{"filter": "datum.site === 'Prostate-draining LN'"}],
  "mark": {"type": "bar", "orient": "vertical", "width": 33, "stroke": "black", "strokeWidth": 2.5},
  "encoding": {
   "x": {"field": "idx", "type": "quantitative", "scale": {"domain": [0.48, 6.55], "nice": false, "zero": false}, "axis": {"title": null, "values": [1,2,3,4,5,6], "labels": false, "tickSize": 6, "tickWidth": 2, "domainWidth": 2}},
   "y": {"field": "mean", "type": "quantitative", "scale": {"domain": [0, 100], "nice": false}, "axis": {"title": null, "values": [0,20,40,60,80,100], "labelFontSize": 12, "labelFontWeight": "bold", "labelPadding": 1, "tickSize": 6, "tickWidth": 2, "domainWidth": 2}},
   "fill": {"field": "group", "type": "nominal", "scale": {"domain": ["Anti-OX40/OVA","Rat IgG/OVA","Anti-OX40/OVA/LPS","Rat IgG/OVA/LPS","OX40/OVA BL6","Rat/OVA BL6"], "range": ["#000000","#ffffff","#808080","#ffffff","#ebebeb","#ffffff"]}, "legend": null}
  }},
 {"data": {"name": "lysis"}, "transform": [{"filter": "datum.site === 'Prostate-draining LN' && datum.group === 'Rat IgG/OVA/LPS'"}],
  "mark": {"type": "bar", "orient": "vertical", "width": 33, "stroke": "black", "strokeWidth": 2.5, "fill": {"gradient": "linear", "x1": 0, "y1": 0, "x2": 0.304, "y2": 1.179, "stops": [
   {"offset": 0, "color": "#fff"},
   {"offset": 0.022, "color": "#fff"}, {"offset": 0.022, "color": "#000"}, {"offset": 0.038, "color": "#000"}, {"offset": 0.038, "color": "#fff"},
   {"offset": 0.084, "color": "#fff"}, {"offset": 0.084, "color": "#000"}, {"offset": 0.100, "color": "#000"}, {"offset": 0.100, "color": "#fff"},
   {"offset": 0.146, "color": "#fff"}, {"offset": 0.146, "color": "#000"}, {"offset": 0.162, "color": "#000"}, {"offset": 0.162, "color": "#fff"},
   {"offset": 0.208, "color": "#fff"}, {"offset": 0.208, "color": "#000"}, {"offset": 0.224, "color": "#000"}, {"offset": 0.224, "color": "#fff"},
   {"offset": 0.270, "color": "#fff"}, {"offset": 0.270, "color": "#000"}, {"offset": 0.286, "color": "#000"}, {"offset": 0.286, "color": "#fff"},
   {"offset": 0.333, "color": "#fff"}, {"offset": 0.333, "color": "#000"}, {"offset": 0.349, "color": "#000"}, {"offset": 0.349, "color": "#fff"},
   {"offset": 0.395, "color": "#fff"}, {"offset": 0.395, "color": "#000"}, {"offset": 0.411, "color": "#000"}, {"offset": 0.411, "color": "#fff"},
   {"offset": 0.457, "color": "#fff"}, {"offset": 0.457, "color": "#000"}, {"offset": 0.473, "color": "#000"}, {"offset": 0.473, "color": "#fff"},
   {"offset": 0.519, "color": "#fff"}, {"offset": 0.519, "color": "#000"}, {"offset": 0.535, "color": "#000"}, {"offset": 0.535, "color": "#fff"},
   {"offset": 0.581, "color": "#fff"}, {"offset": 0.581, "color": "#000"}, {"offset": 0.597, "color": "#000"}, {"offset": 0.597, "color": "#fff"},
   {"offset": 0.643, "color": "#fff"}, {"offset": 0.643, "color": "#000"}, {"offset": 0.659, "color": "#000"}, {"offset": 0.659, "color": "#fff"},
   {"offset": 0.705, "color": "#fff"}, {"offset": 0.705, "color": "#000"}, {"offset": 0.721, "color": "#000"}, {"offset": 0.721, "color": "#fff"},
   {"offset": 0.767, "color": "#fff"}, {"offset": 0.767, "color": "#000"}, {"offset": 0.783, "color": "#000"}, {"offset": 0.783, "color": "#fff"},
   {"offset": 0.829, "color": "#fff"}, {"offset": 0.829, "color": "#000"}, {"offset": 0.845, "color": "#000"}, {"offset": 0.845, "color": "#fff"},
   {"offset": 0.891, "color": "#fff"}, {"offset": 0.891, "color": "#000"}, {"offset": 0.907, "color": "#000"}, {"offset": 0.907, "color": "#fff"},
   {"offset": 0.953, "color": "#fff"}, {"offset": 0.953, "color": "#000"}, {"offset": 0.969, "color": "#000"}, {"offset": 0.969, "color": "#fff"},
   {"offset": 1, "color": "#fff"}]}},
  "encoding": {"x": {"field": "idx", "type": "quantitative"}, "y": {"field": "mean", "type": "quantitative"}}},
 {"data": {"name": "lysis"}, "transform": [{"filter": "datum.site === 'Prostate-draining LN' && datum.group === 'Rat/OVA BL6'"}],
  "mark": {"type": "bar", "orient": "vertical", "width": 33, "stroke": "black", "strokeWidth": 2.5, "fill": {"gradient": "linear", "x1": 0, "y1": 0, "x2": 0, "y2": 1, "stops": [
   {"offset": 0, "color": "#fff"},
   {"offset": 0.094, "color": "#fff"}, {"offset": 0.094, "color": "#000"}, {"offset": 0.118, "color": "#000"}, {"offset": 0.118, "color": "#fff"},
   {"offset": 0.205, "color": "#fff"}, {"offset": 0.205, "color": "#000"}, {"offset": 0.229, "color": "#000"}, {"offset": 0.229, "color": "#fff"},
   {"offset": 0.316, "color": "#fff"}, {"offset": 0.316, "color": "#000"}, {"offset": 0.340, "color": "#000"}, {"offset": 0.340, "color": "#fff"},
   {"offset": 0.427, "color": "#fff"}, {"offset": 0.427, "color": "#000"}, {"offset": 0.451, "color": "#000"}, {"offset": 0.451, "color": "#fff"},
   {"offset": 0.538, "color": "#fff"}, {"offset": 0.538, "color": "#000"}, {"offset": 0.562, "color": "#000"}, {"offset": 0.562, "color": "#fff"},
   {"offset": 0.649, "color": "#fff"}, {"offset": 0.649, "color": "#000"}, {"offset": 0.673, "color": "#000"}, {"offset": 0.673, "color": "#fff"},
   {"offset": 0.760, "color": "#fff"}, {"offset": 0.760, "color": "#000"}, {"offset": 0.784, "color": "#000"}, {"offset": 0.784, "color": "#fff"},
   {"offset": 0.871, "color": "#fff"}, {"offset": 0.871, "color": "#000"}, {"offset": 0.895, "color": "#000"}, {"offset": 0.895, "color": "#fff"},
   {"offset": 1, "color": "#fff"}]}},
  "encoding": {"x": {"field": "idx", "type": "quantitative"}, "y": {"field": "mean", "type": "quantitative"}}},
 {"data": {"name": "lysis"}, "transform": [{"filter": "datum.site === 'Prostate-draining LN' && datum.upper > datum.mean"}],
  "mark": {"type": "rule", "strokeWidth": 2.5, "color": "black"},
  "encoding": {"x": {"field": "idx", "type": "quantitative"}, "y": {"field": "mean", "type": "quantitative"}, "y2": {"field": "upper"}}},
 {"data": {"name": "lysis"}, "transform": [{"filter": "datum.site === 'Prostate-draining LN' && datum.upper > datum.mean"}],
  "mark": {"type": "tick", "orient": "horizontal", "size": 17, "thickness": 2.5, "color": "black"},
  "encoding": {"x": {"field": "idx", "type": "quantitative"}, "y": {"field": "upper", "type": "quantitative"}}},
 {"data": {"name": "sig"}, "transform": [{"filter": "datum.site === 'Prostate-draining LN'"}],
  "mark": {"type": "rule", "strokeWidth": 2, "color": "black"},
  "encoding": {"x": {"field": "from", "type": "quantitative"}, "x2": {"field": "to"}, "y": {"field": "level", "type": "quantitative"}}},
 {"data": {"name": "sig"}, "transform": [{"filter": "datum.site === 'Prostate-draining LN'"}],
  "mark": {"type": "text", "text": "*", "fontSize": 26, "fontWeight": "bold", "baseline": "middle"},
  "encoding": {"x": {"field": "starAt", "type": "quantitative"}, "y": {"field": "starLevel", "type": "quantitative"}}},
 {"data": {"name": "hosts"}, "transform": [{"filter": "datum.site === 'Prostate-draining LN'"}],
  "mark": {"type": "rule", "strokeWidth": 4, "color": "black"},
  "encoding": {"x": {"field": "from", "type": "quantitative"}, "x2": {"field": "to"}, "y": {"datum": -11.5, "type": "quantitative"}}},
 {"data": {"name": "hosts"}, "transform": [{"filter": "datum.site === 'Prostate-draining LN'"}],
  "mark": {"type": "text", "fontSize": 22, "lineBreak": "\n", "lineHeight": 24, "baseline": "middle"},
  "encoding": {"x": {"field": "at", "type": "quantitative"}, "y": {"datum": -23, "type": "quantitative"}, "text": {"field": "label"}}},
 {"data": {"values": [{"t": "Prostate-draining LN"}]}, "mark": {"type": "text", "fontSize": 21, "baseline": "middle"},
  "encoding": {"x": {"datum": 3.54, "type": "quantitative"}, "y": {"datum": 129.6, "type": "quantitative"}, "text": {"field": "t"}}},
 {"data": {"values": [{"t": "Prostate-draining LN"}]}, "mark": {"type": "rule", "strokeWidth": 1.5, "color": "black"},
  "encoding": {"x": {"datum": 1.36, "type": "quantitative"}, "x2": {"datum": 5.71}, "y": {"datum": 123.8, "type": "quantitative"}}}
 ]},
{"width": 170, "height": 143,
 "data": {"name": "lysis"},
 "transform": [{"filter": "datum.site === 'Lymph nodes'"}],
 "layer": [
 {"mark": {"type": "point", "shape": "M-1,-0.38H1V0.38H-1Z", "size": 841, "filled": true, "stroke": "black", "strokeWidth": 2.5, "opacity": 1},
  "encoding": {
   "x": {"datum": -0.203, "type": "quantitative", "scale": {"domain": [0, 1], "nice": false, "zero": false}, "axis": null},
   "y": {"field": "group", "type": "nominal", "scale": {"type": "point", "padding": 0, "domain": ["Anti-OX40/OVA","Rat IgG/OVA","Anti-OX40/OVA/LPS","Rat IgG/OVA/LPS","OX40/OVA BL6","Rat/OVA BL6"]}, "axis": null},
   "fill": {"field": "group", "type": "nominal", "scale": {"domain": ["Anti-OX40/OVA","Rat IgG/OVA","Anti-OX40/OVA/LPS","Rat IgG/OVA/LPS","OX40/OVA BL6","Rat/OVA BL6"], "range": ["#000000","#ffffff","#808080","#ffffff","#ebebeb","#ffffff"]}, "legend": null}
  }},
 {"transform": [{"filter": "datum.group === 'Rat IgG/OVA/LPS'"}],
  "mark": {"type": "point", "shape": "M-1,-0.38H1V0.38H-1Z", "size": 841, "filled": true, "stroke": "black", "strokeWidth": 2.5, "opacity": 1,
   "fill": {"gradient": "linear", "x1": 0, "y1": 0, "x2": 1.205, "y2": 0.459, "stops": [{"offset": 0, "color": "#fff"}, {"offset": 0.215, "color": "#fff"}, {"offset": 0.215, "color": "#000"}, {"offset": 0.285, "color": "#000"}, {"offset": 0.285, "color": "#fff"}, {"offset": 0.465, "color": "#fff"}, {"offset": 0.465, "color": "#000"}, {"offset": 0.535, "color": "#000"}, {"offset": 0.535, "color": "#fff"}, {"offset": 0.715, "color": "#fff"}, {"offset": 0.715, "color": "#000"}, {"offset": 0.785, "color": "#000"}, {"offset": 0.785, "color": "#fff"}, {"offset": 1, "color": "#fff"}]}},
  "encoding": {"x": {"datum": -0.203, "type": "quantitative"}, "y": {"field": "group", "type": "nominal"}}},
 {"transform": [{"filter": "datum.group === 'Rat/OVA BL6'"}],
  "mark": {"type": "point", "shape": "M-1,-0.38H1V0.38H-1Z", "size": 841, "filled": true, "stroke": "black", "strokeWidth": 2.5, "opacity": 1,
   "fill": {"gradient": "linear", "x1": 0, "y1": 0, "x2": 0, "y2": 1, "stops": [{"offset": 0, "color": "#fff"}, {"offset": 0.4, "color": "#fff"}, {"offset": 0.4, "color": "#000"}, {"offset": 0.6, "color": "#000"}, {"offset": 0.6, "color": "#fff"}, {"offset": 1, "color": "#fff"}]}},
  "encoding": {"x": {"datum": -0.203, "type": "quantitative"}, "y": {"field": "group", "type": "nominal"}}},
 {"mark": {"type": "text", "align": "left", "baseline": "middle", "fontSize": 18.5},
  "encoding": {"x": {"datum": -0.041, "type": "quantitative"}, "y": {"field": "group", "type": "nominal"}, "text": {"field": "group"}}}
 ]}
]
}
]
}
